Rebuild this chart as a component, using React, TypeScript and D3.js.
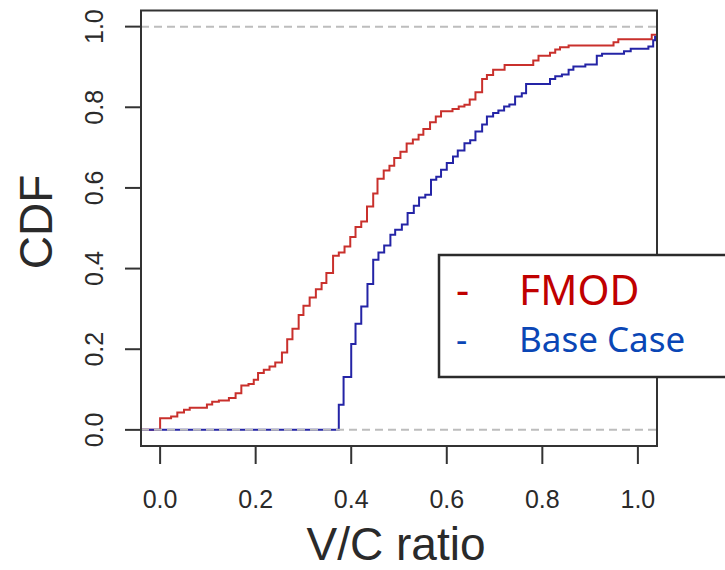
import React from 'react';
import * as d3 from 'd3';

// FMOD ECDF: jump positions (V/C) and CDF value after each jump
const fmodX = [0.0, 0.023, 0.036, 0.05, 0.062, 0.098, 0.109, 0.123, 0.144, 0.158, 0.17, 0.185, 0.196, 0.205, 0.217, 0.229, 0.241, 0.255, 0.266, 0.277, 0.29, 0.3, 0.313, 0.326, 0.338, 0.348, 0.362, 0.374, 0.386, 0.398, 0.409, 0.421, 0.433, 0.446, 0.455, 0.468, 0.48, 0.49, 0.503, 0.516, 0.529, 0.541, 0.551, 0.565, 0.577, 0.588, 0.612, 0.625, 0.637, 0.648, 0.66, 0.674, 0.684, 0.697, 0.721, 0.781, 0.792, 0.816, 0.827, 0.837, 0.855, 0.949, 0.959, 1.029];
const fmodY = [0.029, 0.033, 0.043, 0.05, 0.055, 0.063, 0.07, 0.073, 0.079, 0.091, 0.11, 0.114, 0.124, 0.141, 0.149, 0.157, 0.167, 0.192, 0.225, 0.251, 0.285, 0.308, 0.328, 0.349, 0.364, 0.389, 0.432, 0.44, 0.455, 0.478, 0.503, 0.517, 0.554, 0.586, 0.623, 0.643, 0.655, 0.674, 0.69, 0.71, 0.72, 0.732, 0.746, 0.763, 0.777, 0.79, 0.796, 0.802, 0.806, 0.819, 0.837, 0.87, 0.88, 0.893, 0.905, 0.916, 0.928, 0.935, 0.943, 0.949, 0.953, 0.961, 0.969, 0.98];

// Base Case ECDF
const baseX = [0.374, 0.384, 0.4, 0.409, 0.421, 0.434, 0.446, 0.457, 0.469, 0.482, 0.492, 0.506, 0.518, 0.531, 0.542, 0.555, 0.567, 0.578, 0.588, 0.6, 0.613, 0.623, 0.637, 0.649, 0.66, 0.674, 0.684, 0.697, 0.708, 0.72, 0.731, 0.743, 0.757, 0.766, 0.816, 0.827, 0.841, 0.855, 0.865, 0.89, 0.914, 0.925, 0.971, 0.985, 1.022, 1.032, 1.036];
const baseY = [0.062, 0.131, 0.213, 0.263, 0.306, 0.362, 0.422, 0.44, 0.457, 0.484, 0.496, 0.509, 0.538, 0.556, 0.576, 0.583, 0.62, 0.628, 0.645, 0.662, 0.678, 0.693, 0.711, 0.718, 0.74, 0.757, 0.777, 0.786, 0.792, 0.802, 0.807, 0.827, 0.835, 0.858, 0.87, 0.877, 0.881, 0.893, 0.901, 0.906, 0.928, 0.933, 0.939, 0.945, 0.951, 0.966, 0.975];

const xTicks = [0, 0.2, 0.4, 0.6, 0.8, 1.0];
const yTicks = [0, 0.2, 0.4, 0.6, 0.8, 1.0];
const refLines = [0, 1];

const legendLabels = ['FMOD', 'Base Case'];

export default function App() {
  const W = 725, H = 570;
  const left = 141, right = 657, top = 10.5, bottom = 446;
  const x = d3.scaleLinear().domain([-0.04, 1.04]).range([left, right]);
  const y = d3.scaleLinear().domain([-0.04, 1.04]).range([bottom, top]);

  const line = d3.line<[number, number]>()
    .x(d => x(d[0]))
    .y(d => y(d[1]))
    .curve(d3.curveStepAfter);

  const mk = (xs: number[], ys: number[]): [number, number][] => {
    const pts: [number, number][] = [[-0.06, 0]];
    xs.forEach((v, i) => pts.push([v, ys[i]]));
    pts.push([1.08, ys[ys.length - 1]]);
    return pts;
  };

  const axisFont = "'Liberation Sans', Arial, sans-serif";
  const legFont = "'Noto Sans', 'Open Sans', sans-serif";
  const textCol = '#2a2a2a';

  return (
    <svg width={W} height={H} style={{ position: 'absolute', left: 0, top: 0, background: '#fff' }}>
      <defs>
        <clipPath id="plotclip">
          <rect x={left} y={top} width={right - left} height={bottom - top} />
        </clipPath>
      </defs>
      <g clipPath="url(#plotclip)">
        <path d={line(mk(fmodX, fmodY)) || ''} fill="none" stroke="#c9302c" strokeWidth={2} />
        <path d={line(mk(baseX, baseY)) || ''} fill="none" stroke="#2424a6" strokeWidth={2} />
        {refLines.map(v => (
          <line key={v} x1={left} x2={right} y1={y(v)} y2={y(v)} stroke="#bdbdbd" strokeWidth={2} strokeDasharray="8,5" />
        ))}
      </g>
      <rect x={left} y={top} width={right - left} height={bottom - top} fill="none" stroke="#333" strokeWidth={2} />
      {yTicks.map(v => (
        <g key={'y' + v}>
          <line x1={left - 16} x2={left} y1={y(v)} y2={y(v)} stroke="#333" strokeWidth={2} />
          <text transform={`translate(103,${y(v)}) rotate(-90)`} textAnchor="middle" fontSize={25} fontFamily={axisFont} fill={textCol}>
            {v.toFixed(1)}
          </text>
        </g>
      ))}
      {xTicks.map(v => (
        <g key={'x' + v}>
          <line x1={x(v)} x2={x(v)} y1={bottom} y2={bottom + 18} stroke="#333" strokeWidth={2} />
          <text x={x(v)} y={508} textAnchor="middle" fontSize={25} fontFamily={axisFont} fill={textCol}>
            {v.toFixed(1)}
          </text>
        </g>
      ))}
      <text transform={`translate(52,222) rotate(-90)`} textAnchor="middle" fontSize={46} fontFamily={axisFont} fill={textCol}>CDF</text>
      <text x={396} y={560} textAnchor="middle" fontSize={46} fontFamily={axisFont} fill={textCol}>V/C ratio</text>

      <rect x={439} y={255} width={300} height={122} fill="#fff" stroke="#2b2b2b" strokeWidth={2.5} />
      <text x={456} y={305} fontSize={41} fontFamily={legFont} fill="#c00000">-</text>
      <text x={519} y={305} fontSize={41} fontFamily={legFont} fill="#c00000">{legendLabels[0]}</text>
      <text x={456} y={352} fontSize={35} fontFamily={legFont} fill="#0a46b5">-</text>
      <text x={519} y={352} fontSize={35} fontFamily={legFont} fill="#0a46b5">{legendLabels[1]}</text>
    </svg>
  );
}
